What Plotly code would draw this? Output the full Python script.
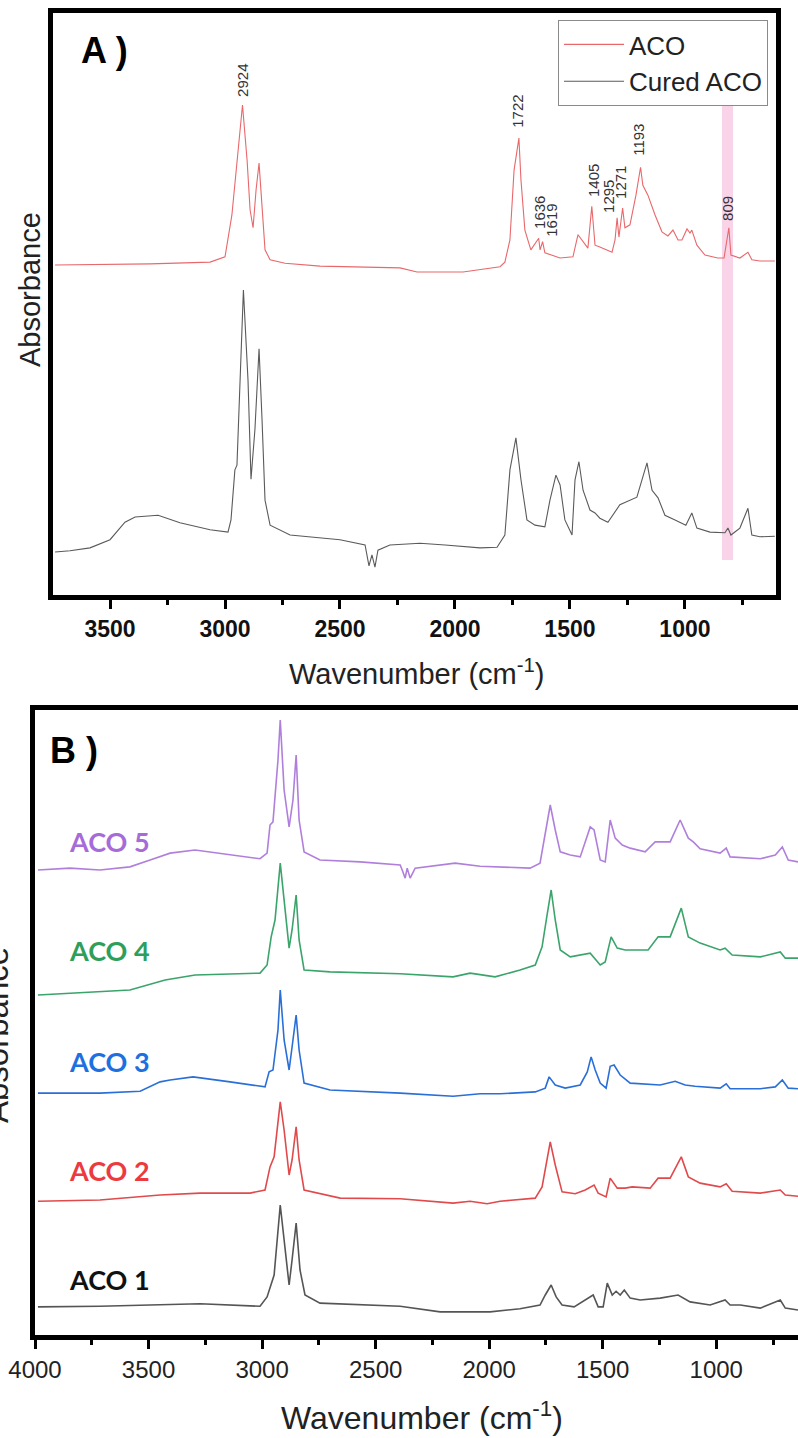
import plotly.graph_objects as go

# ---------------- Panel A data (wavenumber cm-1, absorbance a.u., stacked) ----------------
aco_wn = [3739, 3326, 3065, 3000, 2970, 2935, 2924, 2904, 2891, 2878, 2865, 2852, 2839, 2826, 2804,
          2739, 2587, 2239, 2165, 1965, 1804, 1783, 1761, 1743, 1722, 1713, 1696, 1670, 1636, 1630,
          1619, 1609, 1543, 1487, 1465, 1448, 1422, 1405, 1391, 1370, 1317, 1304, 1295, 1287, 1271,
          1261, 1239, 1213, 1193, 1183, 1161, 1130, 1100, 1074, 1052, 1030, 1013, 991, 978, 970,
          948, 913, 857, 830, 809, 800, 761, 726, 709, 674, 609]
aco_abs = [56.7, 56.9, 57.2, 58.1, 65.3, 79.9, 84.2, 74.7, 66.2, 63.1, 69.6, 74.2, 66.2, 59.3, 57.6,
           57.0, 56.5, 56.2, 55.5, 55.5, 56.4, 57.2, 61.0, 73.0, 78.5, 71.3, 62.7, 59.3, 61.3, 59.3,
           60.7, 58.8, 57.9, 58.1, 61.9, 61.0, 59.6, 66.8, 60.1, 59.8, 58.9, 61.0, 64.8, 61.5, 66.5,
           63.1, 63.6, 68.7, 73.5, 70.4, 68.7, 65.3, 62.4, 61.7, 62.7, 61.0, 61.0, 62.9, 62.2, 62.7,
           60.1, 58.4, 57.9, 57.9, 63.1, 58.4, 57.9, 58.9, 57.6, 57.4, 57.4]

cured_wn = [3739, 3674, 3587, 3500, 3435, 3391, 3291, 3196, 3065, 2987, 2974, 2957, 2948, 2935, 2920,
            2900, 2887, 2870, 2852, 2839, 2826, 2804, 2717, 2500, 2391, 2374, 2361, 2348, 2335, 2283,
            2152, 2043, 1891, 1817, 1783, 1761, 1735, 1713, 1687, 1652, 1609, 1587, 1561, 1543, 1522,
            1491, 1478, 1461, 1443, 1413, 1391, 1370, 1335, 1283, 1239, 1209, 1165, 1143, 1117, 1087,
            1043, 996, 970, 948, 891, 826, 813, 800, 761, 726, 709, 674, 609]
cured_abs = [7.4, 7.6, 8.1, 9.5, 12.5, 13.4, 13.7, 12.4, 11.2, 10.8, 12.9, 21.5, 22.3, 36.9, 52.4,
             36.9, 19.9, 28.4, 42.3, 30.1, 16.3, 12.0, 10.3, 9.5, 8.6, 5.0, 6.9, 4.8, 7.7, 8.6,
             8.9, 8.6, 8.1, 8.2, 10.3, 21.5, 27.0, 19.8, 12.9, 12.0, 11.7, 16.3, 20.6, 18.9, 12.9,
             10.3, 19.8, 22.9, 18.0, 14.6, 14.1, 13.2, 12.5, 15.5, 16.3, 16.8, 22.7, 18.0, 16.7, 13.7,
             12.9, 12.0, 14.1, 11.5, 10.8, 10.7, 11.5, 10.3, 11.5, 14.9, 10.3, 10.0, 10.1]

peak_labels = ["2924", "1722", "1636", "1619", "1405", "1295", "1271", "1193", "809"]
peak_label_x = [2922, 1726, 1635, 1578, 1400, 1330, 1278, 1200, 813]
peak_label_y = [88.5, 83.2, 65.8, 64.3, 71.3, 68.4, 70.8, 78.2, 66.5]

band_wn = [839, 791]
band_abs = [6.0, 84.7]

# ---------------- Panel B data ----------------
aco5_wn = [3987, 3846, 3714, 3582, 3493, 3405, 3295, 3141, 3009, 2978, 2965, 2952, 2930, 2920, 2903,
           2881, 2864, 2850, 2837, 2815, 2745, 2568, 2392, 2383, 2370, 2361, 2348, 2326, 2216, 2150,
           2040, 1952, 1820, 1776, 1753, 1731, 1709, 1687, 1643, 1599, 1555, 1538, 1511, 1489, 1467,
           1445, 1414, 1379, 1313, 1269, 1203, 1159, 1123, 1101, 1071, 983, 956, 939, 806, 740,
           709, 683, 640]
aco5_abs = [74.4, 74.7, 74.4, 74.9, 76.0, 77.1, 77.6, 76.8, 76.2, 77.1, 81.6, 82.1, 92.0, 98.4, 87.2,
            81.3, 85.6, 92.8, 82.4, 77.3, 76.0, 75.7, 75.2, 74.4, 73.1, 74.7, 73.1, 74.7, 75.2, 75.5,
            75.0, 74.9, 74.7, 75.5, 80.0, 84.8, 80.8, 77.3, 76.8, 76.5, 81.3, 80.8, 76.0, 75.7, 82.4,
            79.5, 78.4, 77.9, 77.3, 78.9, 78.9, 82.4, 79.5, 78.9, 77.8, 77.1, 77.9, 76.5, 76.2, 76.8,
            78.1, 76.0, 75.7]

aco4_wn = [3987, 3846, 3582, 3427, 3295, 3009, 2978, 2960, 2943, 2920, 2903, 2881, 2868, 2850, 2837,
           2815, 2701, 2392, 2159, 2084, 1974, 1864, 1797, 1767, 1745, 1727, 1709, 1687, 1643, 1555,
           1511, 1489, 1463, 1436, 1401, 1300, 1256, 1203, 1154, 1123, 1071, 983, 961, 930, 806,
           718, 696, 640]
aco4_abs = [54.4, 54.7, 55.2, 56.8, 57.6, 57.9, 59.2, 63.7, 66.4, 75.5, 69.6, 61.9, 64.8, 70.4, 63.2,
            58.4, 58.1, 57.8, 57.3, 57.9, 57.3, 58.4, 59.2, 62.1, 67.2, 71.2, 66.4, 61.6, 60.5, 61.1,
            59.2, 59.7, 63.7, 61.9, 61.6, 61.6, 63.7, 63.7, 68.3, 63.7, 62.7, 61.6, 61.9, 60.8, 60.5,
            61.3, 60.3, 60.3]

aco3_wn = [3987, 3714, 3537, 3449, 3405, 3304, 3141, 2987, 2969, 2952, 2930, 2920, 2903, 2881, 2864,
           2850, 2837, 2815, 2701, 2392, 2159, 2040, 1952, 1797, 1753, 1736, 1709, 1665, 1599, 1568,
           1551, 1533, 1511, 1485, 1467, 1450, 1423, 1379, 1247, 1181, 1137, 1093, 983, 956, 939,
           806, 740, 709, 683, 640]
aco3_abs = [38.7, 38.7, 39.0, 40.5, 40.8, 41.3, 40.5, 39.7, 42.1, 42.4, 48.8, 55.2, 47.2, 42.4, 47.2,
            51.2, 45.6, 40.3, 39.2, 38.7, 38.2, 38.6, 38.6, 38.9, 39.5, 41.3, 40.0, 39.5, 40.0, 42.1,
            44.5, 42.4, 40.3, 39.5, 43.0, 43.2, 41.6, 40.3, 40.0, 40.6, 40.0, 39.8, 39.5, 40.2, 39.4,
            39.4, 39.7, 40.8, 39.5, 39.4]

aco2_wn = [3987, 3714, 3449, 3273, 3053, 2987, 2965, 2947, 2920, 2903, 2881, 2868, 2850, 2837, 2815,
           2656, 2392, 2159, 2084, 2009, 1952, 1797, 1767, 1731, 1709, 1679, 1621, 1577, 1538, 1520,
           1485, 1467, 1436, 1401, 1370, 1291, 1256, 1203, 1154, 1123, 1071, 983, 956, 930, 806,
           718, 696, 640]
aco2_abs = [21.4, 21.6, 22.4, 22.7, 22.7, 23.2, 26.9, 28.5, 37.3, 32.8, 25.6, 28.0, 33.3, 28.0, 23.2,
            21.9, 21.8, 21.1, 21.4, 21.0, 21.4, 21.9, 23.7, 30.9, 27.2, 22.9, 22.6, 23.2, 24.0, 22.7,
            22.1, 25.1, 23.5, 23.5, 23.7, 23.5, 25.1, 25.1, 28.5, 25.3, 24.3, 23.7, 24.2, 23.0, 22.7,
            23.2, 22.4, 22.2]

aco1_wn = [3987, 3714, 3273, 3009, 2978, 2965, 2947, 2920, 2899, 2881, 2868, 2850, 2833, 2811, 2745,
           2392, 2216, 2150, 1996, 1864, 1776, 1753, 1727, 1705, 1679, 1626, 1577, 1542, 1520, 1498,
           1480, 1458, 1441, 1423, 1405, 1379, 1335, 1247, 1168, 1115, 1027, 961, 939, 894, 806,
           718, 696, 640]
aco1_abs = [4.5, 4.6, 5.0, 4.6, 6.1, 7.7, 9.6, 20.8, 13.6, 8.0, 12.0, 17.9, 10.4, 6.4, 5.1,
            4.6, 3.7, 3.7, 3.7, 4.2, 4.8, 6.4, 8.0, 6.1, 4.8, 4.5, 5.6, 6.4, 4.5, 4.5,
            8.3, 6.4, 7.0, 6.4, 7.2, 5.9, 5.6, 5.9, 6.4, 5.3, 4.8, 5.6, 4.8, 4.8, 4.3,
            5.6, 4.3, 4.0]

series_b = ["ACO 5", "ACO 4", "ACO 3", "ACO 2", "ACO 1"]
x_ticks = [4000, 3500, 3000, 2500, 2000, 1500, 1000]

# ---------------- Figure ----------------
W, H = 798, 1438
FONT = "Liberation Sans, Arial, sans-serif"
fig = go.Figure()

fig.add_trace(go.Scatter(x=aco_wn, y=aco_abs, mode="lines", name="ACO",
                         line=dict(color="#E8686B", width=1.1), xaxis="x", yaxis="y"))
fig.add_trace(go.Scatter(x=cured_wn, y=cured_abs, mode="lines", name="Cured ACO",
                         line=dict(color="#5A5A5A", width=1.1), xaxis="x", yaxis="y"))

b_data = [(aco5_wn, aco5_abs, "#B07FDC", "#A66BD8"),
          (aco4_wn, aco4_abs, "#3AA46B", "#2E9E5B"),
          (aco3_wn, aco3_abs, "#2A6FD8", "#1E6FE0"),
          (aco2_wn, aco2_abs, "#E04A4C", "#EB3B40"),
          (aco1_wn, aco1_abs, "#555555", "#111111")]
for name, (xs, ys, lc, tc) in zip(series_b, b_data):
    fig.add_trace(go.Scatter(x=xs, y=ys, mode="lines", name=name, showlegend=False,
                             line=dict(color=lc, width=1.6), xaxis="x2", yaxis="y2"))

# pink highlight band at 809 cm-1
fig.add_shape(type="rect", xref="x", yref="y", x0=band_wn[0], x1=band_wn[1],
              y0=band_abs[0], y1=band_abs[1], fillcolor="rgba(240,140,195,0.38)",
              line=dict(width=0), layer="below")

C = dict(xanchor="center", yanchor="middle", showarrow=False)
annotations = []
for t, px, py in zip(peak_labels, peak_label_x, peak_label_y):
    annotations.append(dict(x=px, y=py, xref="x", yref="y", text=t, textangle=-90,
                            font=dict(family=FONT, size=15, color="#333333"), **C))

label_y = [841, 950, 1061, 1170, 1279]
for name, (xs, ys, lc, tc), ly in zip(series_b, b_data, label_y):
    annotations.append(dict(x=109 / W, y=1 - ly / H, xref="paper", yref="paper", text=f"<b>{name}</b>",
                            font=dict(family="Lato, Open Sans, sans-serif", size=27, color=tc, weight=900),
                            **C))

annotations += [
    dict(x=104 / W, y=1 - 50 / H, xref="paper", yref="paper", text="<b>A )</b>",
         font=dict(family=FONT, size=36, color="black"), **C),
    dict(x=74 / W, y=1 - 750 / H, xref="paper", yref="paper", text="<b>B )</b>",
         font=dict(family=FONT, size=36, color="black"), **C),
    dict(x=30 / W, y=1 - 290 / H, xref="paper", yref="paper", text="Absorbance", textangle=-90,
         font=dict(family=FONT, size=29, color="#222222"), **C),
    dict(x=-4 / W, y=1 - 1035 / H, xref="paper", yref="paper", text="Absorbance", textangle=-90,
         font=dict(family=FONT, size=33, color="#222222"), **C),
    dict(x=416 / W, y=1 - 672 / H, xref="paper", yref="paper", text="Wavenumber (cm<sup>-1</sup>)",
         font=dict(family=FONT, size=29, color="#222222"), **C),
    dict(x=422 / W, y=1 - 1416 / H, xref="paper", yref="paper", text="Wavenumber (cm<sup>-1</sup>)",
         font=dict(family=FONT, size=32, color="#222222"), **C),
]

axis_common = dict(showgrid=False, zeroline=False, showline=True, linecolor="black", automargin=False)

fig.update_layout(
    width=W, height=H, margin=dict(l=0, r=0, t=0, b=0, pad=0, autoexpand=False),
    paper_bgcolor="white", plot_bgcolor="white",
    xaxis=dict(domain=[53 / W, 776 / W], range=[3748, 604], anchor="y", linewidth=5, mirror=True,
               tickmode="array", tickvals=x_ticks[1:], ticks="outside", ticklen=9, tickwidth=3,
               tickcolor="black", tickfont=dict(family=FONT, size=23, color="#111111", weight="bold"),
               minor=dict(tickmode="linear", tick0=0, dtick=250, ticks="outside", ticklen=5, tickwidth=3,
                          tickcolor="black"),
               **axis_common),
    yaxis=dict(domain=[1 - 595 / H, 1 - 13 / H], range=[0, 100], anchor="x", linewidth=5, mirror=True,
               showticklabels=False, ticks="", **axis_common),
    xaxis2=dict(domain=[35 / W, 1.0], range=[4000, 640], anchor="y2", linewidth=5, mirror=True,
                tickmode="array", tickvals=x_ticks, ticks="outside", ticklen=9, tickwidth=3,
                tickcolor="black", tickfont=dict(family=FONT, size=24, color="#222222"),
                minor=dict(tickmode="linear", tick0=0, dtick=250, ticks="outside", ticklen=5, tickwidth=3,
                           tickcolor="black"),
                **axis_common),
    yaxis2=dict(domain=[1 - 1335 / H, 1 - 710 / H], range=[0, 100], anchor="x2", linewidth=5,
                showticklabels=False, ticks="", **axis_common),
    legend=dict(x=768 / W, y=1 - 20 / H, xanchor="right", yanchor="top", bgcolor="white",
                bordercolor="#8A8A8A", borderwidth=1, itemwidth=60, tracegroupgap=0,
                font=dict(family=FONT, size=26, color="#222222")),
    annotations=annotations,
    showlegend=True,
)

fig.write_html("out.html")
